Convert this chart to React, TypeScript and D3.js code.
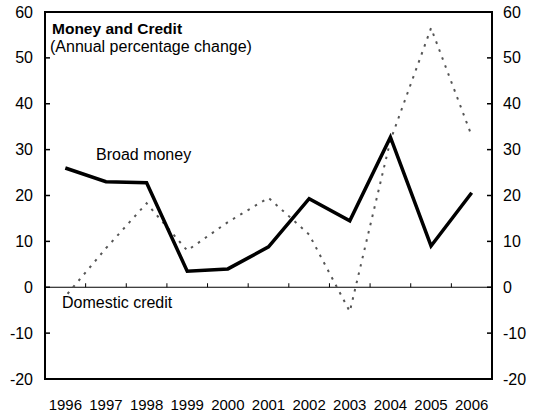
import React from "react";
import * as d3 from "d3";

const years = ["1996","1997","1998","1999","2000","2001","2002","2003","2004","2005","2006"];
const broadMoney = [26, 23, 22.8, 3.5, 4, 8.8, 19.3, 14.5, 32.7, 9, 20.6];
const domesticCredit = [-2, 8.5, 18.3, 8, 14.2, 19.5, 11.5, -5.3, 32, 56.5, 33];
const yTicks = [-20, -10, 0, 10, 20, 30, 40, 50, 60];

const W = 534, H = 413;
const L = 45, R = 492, T = 12, B = 379;
const FONT = "Arial, 'Liberation Sans', Helvetica, sans-serif";

export default function App() {
  const x = d3.scaleBand<string>().domain(years).range([L, R]).padding(0);
  const y = d3.scaleLinear().domain([-20, 60]).range([B, T]);
  const cx = (d: string) => (x(d) as number) + x.bandwidth() / 2;
  const line = d3.line<number>().x((_, i) => cx(years[i])).y((v) => y(v));
  const y0 = y(0);
  return (
    <svg width={W} height={H} style={{ position: "absolute", left: 0, top: 0, background: "#fff" }} fontFamily={FONT}>
      <rect x={0} y={0} width={W} height={H} fill="#fff" />
      <line x1={L} x2={R} y1={y0} y2={y0} stroke="#000" strokeWidth={1} />
      {years.slice(1).map((d) => (
        <line key={d} x1={x(d)} x2={x(d)} y1={y0} y2={y0 - 4} stroke="#000" strokeWidth={1} />
      ))}
      {yTicks.map((t) => (
        <g key={t}>
          <line x1={L} x2={L + 5} y1={y(t)} y2={y(t)} stroke="#000" strokeWidth={1.5} />
          <line x1={R} x2={R - 5} y1={y(t)} y2={y(t)} stroke="#000" strokeWidth={1.5} />
          <text x={33} y={y(t)} dy="0.35em" textAnchor="end" fontSize={16}>{t}</text>
          <text x={503} y={y(t)} dy="0.35em" textAnchor="start" fontSize={16}>{t}</text>
        </g>
      ))}
      <path d={line(domesticCredit) as string} fill="none" stroke="#555" strokeWidth={2} strokeDasharray="2.5,6" strokeDashoffset={5} />
      <path d={line(broadMoney) as string} fill="none" stroke="#000" strokeWidth={3.5} strokeLinejoin="miter" />
      <rect x={L} y={T} width={R - L} height={B - T} fill="none" stroke="#000" strokeWidth={2} />
      {years.map((d) => (
        <text key={d} x={cx(d)} y={410} textAnchor="middle" fontSize={15}>{d}</text>
      ))}
      <text x={52} y={34} fontSize={15.5} fontWeight="bold">Money and Credit</text>
      <text x={50} y={52} fontSize={16}>(Annual percentage change)</text>
      <text x={96} y={160} fontSize={16}>Broad money</text>
      <text x={62} y={308} fontSize={16}>Domestic credit</text>
    </svg>
  );
}
